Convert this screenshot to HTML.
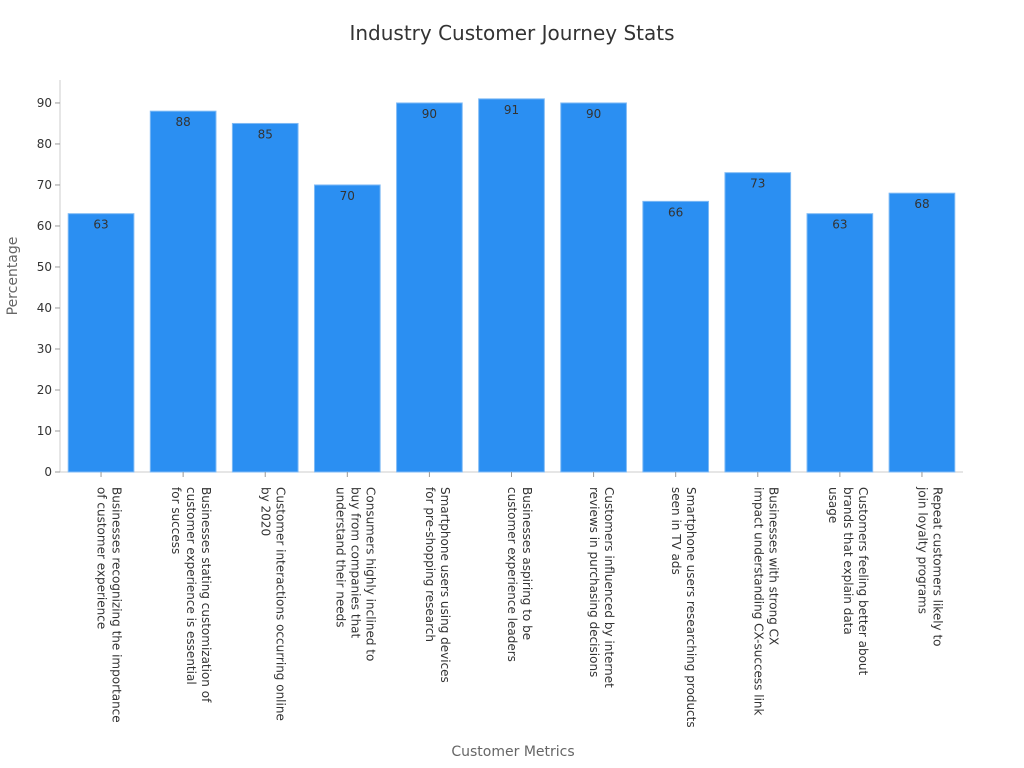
<!DOCTYPE html>
<html><head><meta charset="utf-8"><style>body{margin:0;background:#fff}svg{display:block;font-family:"DejaVu Sans","Liberation Sans",sans-serif}</style></head>
<body>
<svg id="chart" width="1024" height="768">
<text x="512" y="40" text-anchor="middle" font-size="20" fill="#333">Industry Customer Journey Stats</text>
<text transform="translate(17,276) rotate(-90)" text-anchor="middle" font-size="14" fill="#666">Percentage</text>
<text x="513" y="756" text-anchor="middle" font-size="14" fill="#666">Customer Metrics</text>
<g id="plot"></g>
</svg>
<script>
const categories=[
["Businesses recognizing the importance","of customer experience"],
["Businesses stating customization of","customer experience is essential","for success"],
["Customer interactions occurring online","by 2020"],
["Consumers highly inclined to","buy from companies that","understand their needs"],
["Smartphone users using devices","for pre-shopping research"],
["Businesses aspiring to be","customer experience leaders"],
["Customers influenced by internet","reviews in purchasing decisions"],
["Smartphone users researching products","seen in TV ads"],
["Businesses with strong CX","impact understanding CX-success link"],
["Customers feeling better about","brands that explain data","usage"],
["Repeat customers likely to","join loyalty programs"]];
const values=[63,88,85,70,90,91,90,66,73,63,68];
const yTicks=[0,10,20,30,40,50,60,70,80,90];
const NS="http://www.w3.org/2000/svg";
const g=document.getElementById('plot');
const x0=60,x1=963,y0=472,yMaxPx=80,yMax=95.6;
const band=(x1-x0)/categories.length;
const y=v=>y0-(v/yMax)*(y0-yMaxPx);
const xc=i=>x0+band*(i+0.5);
function mk(t,a){const e=document.createElementNS(NS,t);for(const k in a)e.setAttribute(k,a[k]);g.appendChild(e);return e;}
const ya=mk('line',{x1:x0,y1:yMaxPx,x2:x0,y2:y0,stroke:'#ccc'});


const xa=mk('line',{x1:x0,y1:y0,x2:x1,y2:y0,stroke:'#ccc'});


yTicks.forEach(t=>{
 const tk=mk('line',{x1:x0-5,y1:y(t),x2:x0,y2:y(t),stroke:'#999'});
 
 
 const tl=mk('text',{x:x0-8,y:y(t)+4,'text-anchor':'end','font-size':12,fill:'#333'});
 tl.textContent=t;
 
 
});
values.forEach((v,i)=>{
 const w=band*0.8;
 const r=mk('rect',{x:xc(i)-w/2,y:y(v),width:w,height:y0-y(v),fill:'#2b8ff2',stroke:'#7fbaf5','stroke-width':1});
 
 
 const vl=mk('text',{x:xc(i),y:y(v)+15,'text-anchor':'middle','font-size':12,fill:'#333'});
 vl.textContent=v;
 
 
 const tk=mk('line',{x1:xc(i),y1:y0,x2:xc(i),y2:y0+5,stroke:'#999'});
 
 
 const lines=categories[i];
 const lh=15;
 const cx=xc(i)+(lines.length-1)*lh/2+4;
 const t=mk('text',{transform:`translate(${cx},487) rotate(90)`,'font-size':12,fill:'#333'});
 
 
 lines.forEach((s,j)=>{const sp=document.createElementNS(NS,'tspan');sp.setAttribute('x',0);sp.setAttribute('dy',j===0?0:lh);sp.textContent=s;t.appendChild(sp);});
});
</script>
</body></html>
